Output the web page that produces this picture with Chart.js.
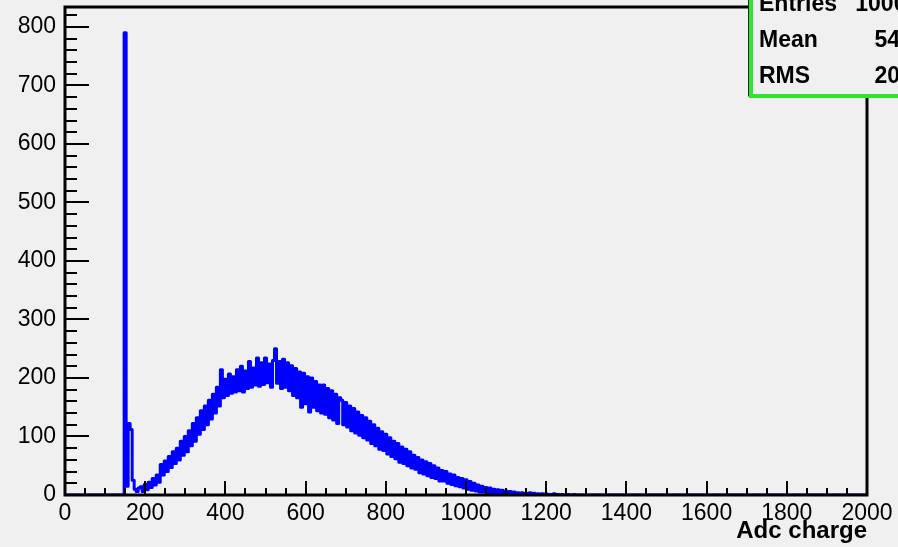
<!DOCTYPE html>
<html>
<head>
<meta charset="utf-8">
<title>Adc charge</title>
<script src="https://cdn.jsdelivr.net/npm/chart.js@4/dist/chart.umd.min.js"></script>
<style>
    html, body { margin: 0; padding: 0; background: #f0f0f0; }
    canvas { display: block; }
</style>
</head>
<body>
<canvas id="adc-canvas" width="898" height="547"></canvas>
<script>
    // histogram range and binning
    const rangeMin = 0;
    const rangeMax = 2000;
    const firstBin = 140;
    const binWidth = 5;

    // counts per 5-channel bin, starting at channel 140
    const counts = [
        0, 0, 790, 15, 122, 112, 25, 10, 6, 12,
        14, 6, 18, 9, 22, 13, 28, 17, 34, 22,
        52, 34, 58, 40, 66, 47, 74, 54, 80, 60,
        92, 68, 100, 74, 110, 84, 122, 92, 132, 104,
        144, 112, 152, 120, 162, 130, 172, 140, 184, 152,
        214, 166, 198, 170, 207, 174, 202, 176, 214, 178,
        220, 176, 212, 182, 228, 184, 217, 188, 234, 186,
        226, 189, 234, 192, 224, 184, 230, 250, 191, 228,
        182, 232, 184, 226, 178, 221, 170, 216, 166, 210,
        150, 208, 156, 202, 142, 200, 150, 194, 144, 188,
        140, 188, 138, 182, 132, 178, 128, 172, 122, 166,
        162, 120, 158, 116, 152, 110, 148, 106, 142, 102,
        136, 98, 132, 94, 126, 88, 120, 84, 114, 78,
        108, 76, 104, 70, 98, 66, 92, 62, 88, 56,
        82, 54, 78, 50, 74, 46, 68, 44, 64, 38,
        60, 36, 57, 33, 54, 30, 50, 28, 46, 24,
        42, 24, 40, 20, 36, 18, 34, 16, 30, 14,
        28, 12, 26, 10, 23, 8, 20, 7, 17, 5,
        15, 5, 13, 4, 12, 3, 10, 2, 9, 2,
        8, 1, 7, 1, 6, 1, 5, 1, 4, 1,
        4, 0, 3, 1, 4, 0, 3, 1, 2, 0,
        2, 0, 2, 1, 1, 0, 2, 0, 1, 0,
        1, 0, 0, 1, 0, 0, 1, 0, 0, 0
    ];

    const xMajorStep = 200;
    const xMinorStep = 50;
    const yMax = 834;
    const yMajorStep = 100;
    const yMinorStep = 20;

    const statsLabels = ['Entries', 'Mean', 'RMS'];
    const statsValues = ['100000', '545.8', '203.1'];

    const bg = '#f0f0f0';
    const fontFamily = '"Liberation Sans", Arial, Helvetica, sans-serif';

    let points = [{x: rangeMin, y: 0}];
    counts.forEach((c, i) => {
        points.push({x: firstBin + i * binWidth, y: c});
    });
    points.push({x: rangeMax, y: 0});

    // ROOT-style frame with ticks pointing into the pad
    const frameAndTicks = {
        id: 'frameAndTicks',
        afterDatasetsDraw(chart) {
            const {ctx, chartArea: a, scales: {x, y}} = chart;
            ctx.save();
            ctx.strokeStyle = '#000';
            ctx.lineWidth = 2;
            ctx.beginPath();
            for (let v = rangeMin; v <= rangeMax; v += xMinorStep) {
                const px = Math.round(x.getPixelForValue(v));
                const len = v % xMajorStep === 0 ? 14 : 7;
                ctx.moveTo(px, a.bottom);
                ctx.lineTo(px, a.bottom - len);
            }
            for (let v = 0; v <= yMax; v += yMinorStep) {
                const py = Math.round(y.getPixelForValue(v));
                const len = v % yMajorStep === 0 ? 24 : 12;
                ctx.moveTo(a.left, py);
                ctx.lineTo(a.left + len, py);
            }
            ctx.stroke();
            ctx.lineWidth = 3;
            ctx.strokeRect(a.left, a.top, a.right - a.left, a.bottom - a.top);
            ctx.restore();
        }
    };

    const statsBox = {
        id: 'statsBox',
        afterDraw(chart) {
            const ctx = chart.ctx;
            ctx.save();
            ctx.fillStyle = bg;
            ctx.fillRect(749, -10, 200, 107);
            ctx.strokeStyle = '#222';
            ctx.lineWidth = 1;
            ctx.strokeRect(748.5, -10, 200, 106);
            ctx.strokeStyle = '#2ce82c';
            ctx.lineWidth = 4;
            ctx.strokeRect(751, -10, 200, 106);
            ctx.fillStyle = '#000';
            ctx.font = 'bold 23px ' + fontFamily;
            ctx.textBaseline = 'middle';
            statsLabels.forEach((label, i) => {
                const ty = 5 + i * 36;
                ctx.textAlign = 'left';
                ctx.fillText(label, 759, ty);
                ctx.textAlign = 'right';
                ctx.fillText(statsValues[i], 932, ty);
            });
            ctx.restore();
        }
    };

    new Chart(document.getElementById('adc-canvas'), {
        type: 'line',
        data: {
            datasets: [{
                label: 'Adc charge',
                data: points,
                borderColor: '#0000ff',
                borderWidth: 3,
                borderJoinStyle: 'round',
                stepped: 'middle',
                pointRadius: 0,
                fill: false
            }]
        },
        options: {
            responsive: false,
            animation: false,
            devicePixelRatio: 1,
            layout: {padding: {top: 7, right: 31, left: 0, bottom: 0}},
            plugins: {
                legend: {display: false},
                tooltip: {enabled: false}
            },
            scales: {
                x: {
                    type: 'linear',
                    min: rangeMin,
                    max: rangeMax,
                    afterFit: (scale) => {
                        scale.height = 52;
                        scale.paddingLeft = 0;
                        scale.paddingRight = 0;
                    },
                    grid: {display: false, drawTicks: false},
                    border: {display: false},
                    ticks: {
                        stepSize: xMajorStep,
                        autoSkip: false,
                        maxRotation: 0,
                        padding: 7,
                        color: '#000',
                        callback: (v) => String(v),
                        font: {family: fontFamily, size: 23, lineHeight: 1}
                    },
                    title: {
                        display: true,
                        text: 'Adc charge',
                        align: 'end',
                        color: '#000',
                        padding: {top: 0, bottom: 1},
                        font: {family: fontFamily, size: 24, weight: 'bold', lineHeight: 1.2}
                    }
                },
                y: {
                    min: 0,
                    max: yMax,
                    afterFit: (scale) => {
                        scale.width = 65;
                        scale.paddingTop = 0;
                        scale.paddingBottom = 0;
                    },
                    grid: {display: false, drawTicks: false},
                    border: {display: false},
                    ticks: {
                        stepSize: yMajorStep,
                        includeBounds: false,
                        padding: 9,
                        color: '#000',
                        callback: (v) => String(v),
                        font: {family: fontFamily, size: 23, lineHeight: 1}
                    }
                }
            }
        },
        plugins: [frameAndTicks, statsBox]
    });
</script>
</body>
</html>
